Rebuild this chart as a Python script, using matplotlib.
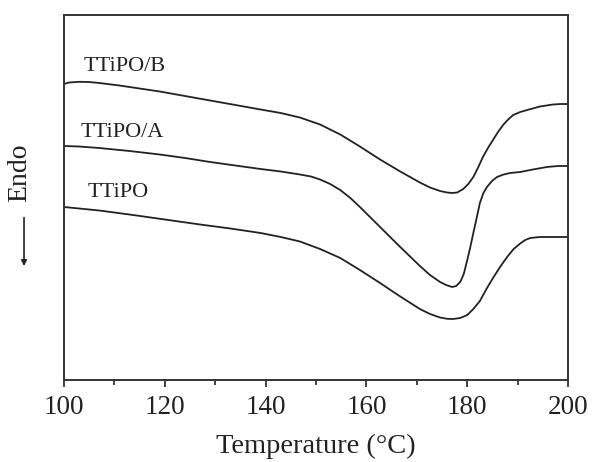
#!/usr/bin/env python3
"""
DSC heating curves of TTiPO, TTiPO/A and TTiPO/B.
Saves out.png
"""

import matplotlib.pyplot as plt
from matplotlib.patches import FancyArrowPatch
from matplotlib.ticker import MultipleLocator

plt.rcParams["font.family"] = ["Liberation Serif", "DejaVu Serif"]

# ── Data (heat flow in arbitrary units) ──────────────────────────────────────

temp_b = [100, 101, 103, 105, 107, 111, 115, 119, 124, 129, 134, 139, 143,
          146.8, 150.8, 154.8, 158.7, 162.7, 166.7, 170.6, 172.6, 174.6,
          176, 177, 178, 179.2, 180.2, 181.2, 182.1, 183.1, 184.1, 185.1,
          186.1, 187.1, 188.1, 189.1, 190.5, 191.9, 194.4, 197, 198.5, 200]
flow_b = [296, 297.5, 298.2, 298, 297, 294.5, 291.5, 288.5, 284, 279.5, 275,
          270.5, 267, 262.5, 255.5, 245.5, 233.5, 220.5, 208.5, 197.5, 192.5,
          189, 187.5, 187, 187.5, 191, 196, 203, 212, 223, 232, 240,
          248, 255, 260.5, 265, 268, 270, 273.5, 275.5, 276, 276]

temp_a = [100, 103, 107, 113, 119, 124, 129, 134, 139, 143, 146.8, 149,
          150.8, 152.8, 154.8, 156.8, 158.7, 160.7, 162.7, 166.7, 170.6,
          172.6, 174.6, 175.8, 177, 177.8, 178.6, 179.3, 180, 180.6, 181.2,
          181.9, 182.5, 183.2, 183.9, 184.9, 185.9, 187.2, 188.5, 190.5, 193,
          195.8, 198, 200]
flow_a = [234, 233.5, 232, 229, 225.5, 222, 218, 214.5, 211, 208.5, 205.5,
          203.5, 200.5, 196, 190, 182, 173, 163, 153, 133, 114,
          105, 98, 95, 93, 94, 98, 106, 120, 133, 147,
          163, 177, 187, 193, 199, 203, 205.5, 207, 208, 210.5,
          213, 214, 214]

temp_t = [100, 107, 113.7, 120, 127, 133, 139, 143, 146.8, 150.8, 154.8,
          158.7, 162.7, 166.7, 170.6, 172.6, 174.6, 176, 177.2, 178.6, 180,
          181.2, 182.5, 183.8, 185.1, 186.5, 187.9, 189.2, 190.5, 191.5,
          192.5, 194.4, 200]
flow_t = [173, 169.5, 165, 160.5, 155.5, 151.5, 147, 143, 138.5, 131, 122,
          110, 97, 83.5, 71, 66, 62.5, 61.2, 61, 62, 65,
          71, 79, 91, 102, 113, 123, 131, 136.5, 140,
          142, 143, 143]

names = ["TTiPO/B", "TTiPO/A", "TTiPO"]
label_pos = [(103.8, 314), (103.2, 248), (104.6, 188)]


# ── Plot ──────────────────────────────────────────────────────────────────────

fig = plt.figure(figsize=(5.93, 4.62), dpi=100)
ax = fig.add_axes([0.108, 0.1775, 0.850, 0.79])

ink = "#222222"
for x, y in [(temp_b, flow_b), (temp_a, flow_a), (temp_t, flow_t)]:
    ax.plot(x, y, color=ink, lw=1.3, solid_joinstyle="round")

for name, (tx, ty) in zip(names, label_pos):
    ax.text(tx, ty, name, fontsize=16, ha="left", va="center", color=ink)

ax.set_xlim(100, 200)
ax.set_ylim(0, 365)
ax.xaxis.set_major_locator(MultipleLocator(20))
ax.xaxis.set_minor_locator(MultipleLocator(10))
ax.tick_params(axis="x", which="major", direction="out", length=5, width=1.2,
               labelsize=19.5, pad=6, colors=ink)
ax.tick_params(axis="x", which="minor", direction="out", length=3.5, width=1.2,
               colors=ink)
ax.set_yticks([])
for sp in ax.spines.values():
    sp.set_linewidth(1.4)
    sp.set_color("#333333")

ax.set_xlabel("Temperature (°C)", fontsize=20.5, labelpad=10, color=ink)

fig.text(0.034, 0.626, "Endo", rotation=90, fontsize=20, ha="center",
         va="center", color=ink)
fig.patches.append(FancyArrowPatch(
    (0.0405, 0.535), (0.0405, 0.418), transform=fig.transFigure,
    arrowstyle="-|>", mutation_scale=8, lw=1.2, color=ink))

fig.savefig("out.png", dpi=100)
plt.close(fig)
